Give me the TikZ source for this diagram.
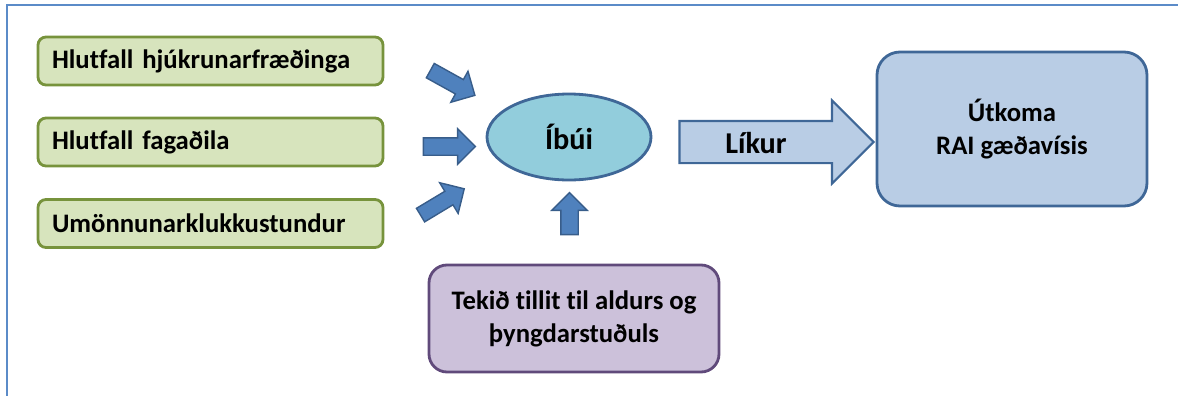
\documentclass[tikz,border=0pt]{standalone}
\usepackage{fontspec}
\setmainfont{Carlito}[Ligatures=NoCommon]
\usetikzlibrary{shapes.geometric, shapes.arrows}

\newcommand{\pxl}{0.025cm}

\definecolor{framebl}{HTML}{5B8BC8}
\definecolor{greenfill}{HTML}{D7E4BD}
\definecolor{greenline}{HTML}{77933C}
\definecolor{cyanfill}{HTML}{92CDDC}
\definecolor{darkbl}{HTML}{3F6797}
\definecolor{paleblue}{HTML}{B9CDE5}
\definecolor{arrowfill}{HTML}{4F81BD}
\definecolor{arrowline}{HTML}{385D8A}
\definecolor{lilac}{HTML}{CCC1DA}
\definecolor{purpleline}{HTML}{604A7B}

\tikzset{
  bigtext/.style={font=\fontsize{19}{23.5}\selectfont\bfseries},
  hugetext/.style={font=\fontsize{21.5}{26}\selectfont\bfseries},
  factorbox/.style={bigtext, draw=greenline, fill=greenfill, line width=2pt,
    rounded corners=8*\pxl, minimum width=345*\pxl, minimum height=48*\pxl,
    text width=317*\pxl, align=left, inner xsep=14*\pxl},
  residentnode/.style={hugetext, ellipse, draw=darkbl, fill=cyanfill, line width=2pt,
    minimum width=164*\pxl, minimum height=86*\pxl},
  outcomebox/.style={bigtext, draw=darkbl, fill=paleblue, line width=2pt,
    rounded corners=23*\pxl, minimum width=270*\pxl, minimum height=154*\pxl, align=center},
  adjustbox/.style={bigtext, draw=purpleline, fill=lilac, line width=2pt,
    rounded corners=18*\pxl, minimum width=290*\pxl, minimum height=107*\pxl, align=center},
  smallarrow/.style={single arrow, draw=arrowline, fill=arrowfill, line width=1pt,
    single arrow tip angle=90, single arrow head indent=0pt,
    inner xsep=0pt, inner ysep=8*\pxl, single arrow head extend=9*\pxl,
    minimum height=51*\pxl},
  bigarrow/.style={single arrow, draw=darkbl, fill=paleblue, line width=1.5pt,
    single arrow tip angle=90, single arrow head indent=0pt,
    inner xsep=0pt, inner ysep=20*\pxl, single arrow head extend=20.5*\pxl,
    minimum height=194*\pxl}
}

\begin{document}
\begin{tikzpicture}[x=0.025cm, y=-0.025cm]
  \useasboundingbox (0,0) rectangle (1178,396);

  % frame
  \draw[framebl, line width=1.5pt] (1178,5) -- (7,5) -- (7,396);

  % left factors
  \node[factorbox] (nurses) at (210.5,61) {Hlutfall hjúkrunarfræðinga};
  \node[factorbox] (staff) at (210.5,142) {Hlutfall fagaðila};
  \node[factorbox] (hours) at (210.5,223.5) {Umönnunarklukkustundur};

  % resident
  \node[residentnode] (resident) at (569,137) {Íbúi};

  % adjustment
  \node[adjustbox] (adjust) at (574,318.5) {Tekið tillit til aldurs og\\þyngdarstuðuls};

  % outcome
  \node[outcomebox] (outcome) at (1012,129) {Útkoma\\RAI gæðavísis};

  % arrows into resident
  \node[smallarrow, rotate=-29, inner ysep=7.5*\pxl, single arrow head extend=9.5*\pxl] (arrnurses) at (449,81) {};
  \node[smallarrow, minimum height=52*\pxl] (arrstaff) at (445,146.5) {};
  \node[smallarrow, rotate=31, inner ysep=7.2*\pxl, single arrow head extend=10*\pxl] (arrhours) at (439,204) {};
  \node[smallarrow, rotate=90, minimum height=42*\pxl] (arradjust) at (569.5,218) {};

  % likelihood arrow
  \node[bigarrow] (likely) at (766,142) {};
  \node[hugetext] (likelytext) at (756,143) {Líkur};
\end{tikzpicture}
\end{document}
